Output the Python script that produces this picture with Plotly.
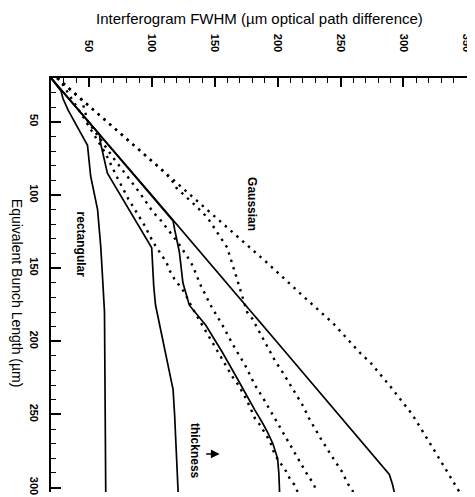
import plotly.graph_objects as go

# Equivalent bunch length L (µm) and interferogram FWHM F (µm optical path difference)
rect_inf_L = [20, 100, 200, 262, 287, 291, 298, 303]
rect_inf_F = [20, 100, 199, 260, 285, 288.8, 291.4, 292.7]

rect_1_L = [20, 29, 34, 42, 66, 87, 110, 135, 157, 180, 303]
rect_1_F = [20, 28, 29.5, 33.6, 49, 51.5, 57, 59.5, 61, 62.5, 63.5]

rect_2_L = [20, 58.5, 64.6, 85, 136, 162, 175, 233, 250, 303]
rect_2_F = [20, 58.5, 59.4, 64.8, 100, 101.6, 103, 117, 118.2, 121]

rect_3_L = [20, 117.7, 123.4, 139, 160, 175.3, 189, 207.3, 223, 239, 247, 255, 262, 270, 280, 290, 303]
rect_3_F = [20, 117, 118.2, 122, 124.8, 129.9, 143, 156, 166.4, 176.5, 182, 187.5, 192, 196.3, 200, 201, 201.6]

gauss_L = [20, 24, 82.5, 146, 171, 188, 208, 215, 230, 250, 272, 290, 303]
gauss_F = [25, 30, 107.8, 191.3, 222.7, 244.5, 265.6, 274.2, 288.8, 307, 322.7, 335.7, 344.5]

gauss_c_L = [20, 82, 89.3, 95, 107.5, 115.4, 125.6, 135.8, 158, 180, 184.2, 202.7, 212.9, 221,
             234.5, 243.5, 252.6, 266.2, 278.7, 288.9, 298, 303]
gauss_c_F = [25, 107, 115.6, 119.5, 135.2, 144.3, 152.1, 159.9, 168, 175.8, 179.7, 191.4, 197.7, 203.9,
             213.3, 219.8, 225, 234.1, 243.2, 251, 256.3, 260.2]

gauss_b_L = [20, 35, 49.7, 75.5, 98.6, 112, 116.5, 127.9, 132.5, 142.7, 148.3, 161, 175.5, 189.1, 202.7,
             216.3, 229.9, 238.8, 252.6, 261.7, 271.9, 279.8, 289.3, 297.9, 303]
gauss_b_F = [25, 44.5, 49.2, 70.3, 90.6, 101.3, 106.5, 117, 120.9, 128.7, 132.6, 138.5, 146.9, 156.3, 164.8,
             174.2, 182, 188.5, 197.7, 204.2, 210.7, 215.9, 222.4, 228.9, 231]

gauss_a_L = [20, 24, 48, 71.5, 87, 102.8, 121, 128, 134.7, 146, 151.7, 157.3, 161.9,
             166.5, 177.8, 183.5, 189.1, 207, 225.4, 230, 235.6, 240.1, 252.6, 257.1, 266.2, 270.7,
             277.5, 284.4, 288.9, 293.4, 298, 303]
gauss_a_F = [25, 29, 46.5, 63.3, 72, 81.5, 94.5, 98.5, 103, 111.7, 114.3, 118, 122,
             126, 132.6, 136.5, 140.4, 153, 165, 169, 172.9, 175.5, 182, 186, 192.4, 195,
             197.7, 202.9, 206.8, 209.4, 213.3, 216]

solid_curves = [(rect_inf_L, rect_inf_F), (rect_1_L, rect_1_F), (rect_2_L, rect_2_F), (rect_3_L, rect_3_F)]
dotted_curves = [(gauss_L, gauss_F), (gauss_c_L, gauss_c_F), (gauss_b_L, gauss_b_F), (gauss_a_L, gauss_a_F)]

fig = go.Figure()
for L, F in solid_curves:
    fig.add_trace(go.Scatter(x=F, y=L, mode='lines', showlegend=False, hoverinfo='skip',
                             line=dict(color='black', width=1.7)))
for L, F in dotted_curves:
    fig.add_trace(go.Scatter(x=F, y=L, mode='lines', showlegend=False, hoverinfo='skip',
                             line=dict(color='black', width=2.4, dash='2.4px,5.3px')))

font = "Liberation Sans, Arial, sans-serif"
tickfont = dict(family=font, size=11, color='black', weight='bold')
axis_common = dict(
    showgrid=False, zeroline=False, showline=True, linecolor='black', linewidth=2,
    ticks='inside', tickcolor='black', tickwidth=1.5, dtick=50, tick0=0,
    tickangle=90, tickfont=tickfont,
    minor=dict(dtick=10, ticks='inside', ticklen=5, tickwidth=1.2, tickcolor='black'),
)
fig.update_xaxes(side='top', range=[20, 350.5], ticklen=9, ticklabelstandoff=20, **axis_common)
fig.update_yaxes(range=[303, 20], ticklen=10, ticklabelstandoff=6, **axis_common)

lab = dict(family=font, size=12, color='black', weight='bold')
annots = [
    dict(text="Interferogram FWHM (\u00b5m optical path difference)", xref='paper', yref='paper',
         x=0.5, y=1.143, showarrow=False, font=dict(family=font, size=15, color='black'),
         xanchor='center', yanchor='middle'),
    dict(text="Equivalent Bunch Length (\u00b5m)", xref='paper', yref='paper',
         x=-0.083, y=0.48, showarrow=False, textangle=90, font=dict(family=font, size=14, color='black'),
         xanchor='center', yanchor='middle'),
    dict(text="rectangular", x=44, y=134, showarrow=False, textangle=90, font=lab),
    dict(text="Gaussian", x=179.5, y=106, showarrow=False, textangle=90, font=lab),
    dict(text="thickness", x=134.5, y=275, showarrow=False, textangle=90, font=lab),
    dict(text="", x=154, y=277, ax=-15, ay=0, showarrow=True, arrowhead=2, arrowsize=1.1,
         arrowwidth=1.6, arrowcolor='black'),
]
fig.update_layout(
    width=475, height=497, margin=dict(l=43, r=10, t=70, b=10),
    paper_bgcolor='white', plot_bgcolor='white', annotations=annots,
)
fig.write_html("out.html")
